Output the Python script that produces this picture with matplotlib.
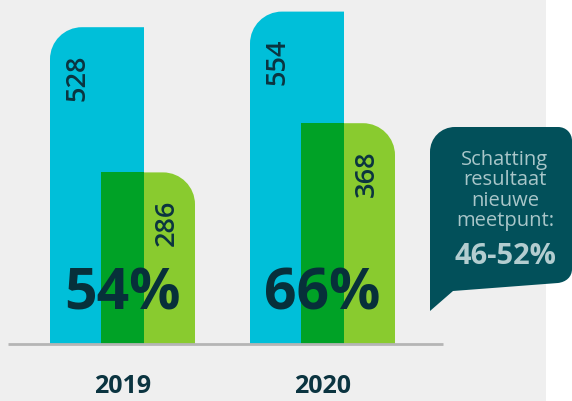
import matplotlib
matplotlib.use("Agg")
import matplotlib.pyplot as plt
from matplotlib.path import Path
from matplotlib.patches import PathPatch, Rectangle

# ---- data ----
years = ["2019", "2020"]
total_values = [528, 554]
response_values = [286, 368]
percent_labels = ["54%", "66%"]
callout_lines = ["Schatting", "resultaat", "nieuwe", "meetpunt:"]
callout_value = "46-52%"

# ---- style ----
BG = "#EFEFEF"
BLUE = "#00BFD9"
LGREEN = "#89CB2F"
DGREEN = "#00A226"
DARK = "#0B3440"
CALLOUT = "#02505A"
CALLOUT_TXT = "#A9C6C9"
FONT = "Open Sans"

W, H = 572, 402
fig = plt.figure(figsize=(W / 100, H / 100), dpi=100, facecolor="white")

# overlay axes in pixel coordinates for background / callout
bg = fig.add_axes([0, 0, 1, 1])
bg.set_xlim(0, W)
bg.set_ylim(H, 0)
bg.axis("off")
bg.add_patch(Rectangle((0, 0), 546, H, facecolor=BG, edgecolor="none"))

# data axes: group index on x (200 px per group), values on y (0.6 px per unit)
px_per_x = 200.0
px_per_y = 0.6
x0_px = 122.5
base_px = 345
ax = fig.add_axes([0, 0, 1, 1], facecolor="none")
ax.set_xlim(-x0_px / px_per_x, (W - x0_px) / px_per_x)
ax.set_ylim(-(H - base_px) / px_per_y, base_px / px_per_y)
ax.axis("off")

bar_w = 94 / px_per_x
offset = 25.5 / px_per_x
rad_px = 32
rx = rad_px / px_per_x
ry = rad_px / px_per_y
k = 0.5523


def round_bar(xl, xr, h, corner, color):
    if corner == "left":
        verts = [(xl, 0), (xl, h - ry), (xl, h - ry + k * ry), (xl + rx - k * rx, h),
                 (xl + rx, h), (xr, h), (xr, 0), (xl, 0)]
        codes = [Path.MOVETO, Path.LINETO, Path.CURVE4, Path.CURVE4, Path.CURVE4,
                 Path.LINETO, Path.LINETO, Path.CLOSEPOLY]
    else:
        verts = [(xl, 0), (xl, h), (xr - rx, h), (xr - rx + k * rx, h),
                 (xr, h - ry + k * ry), (xr, h - ry), (xr, 0), (xl, 0)]
        codes = [Path.MOVETO, Path.LINETO, Path.LINETO, Path.CURVE4, Path.CURVE4,
                 Path.CURVE4, Path.LINETO, Path.CLOSEPOLY]
    ax.add_patch(PathPatch(Path(verts, codes), facecolor=color, edgecolor="none"))


lab_gap = 26 / px_per_y
lab_in = 28 / px_per_x
for i, (tv, rv) in enumerate(zip(total_values, response_values)):
    bl, br = i - offset - bar_w / 2, i - offset + bar_w / 2
    gl, gr = i + offset - bar_w / 2, i + offset + bar_w / 2
    round_bar(bl, br, tv, "left", BLUE)
    round_bar(gl, gr, rv, "right", LGREEN)
    ax.add_patch(Rectangle((gl, 0), br - gl, min(tv, rv), facecolor=DGREEN, edgecolor="none"))
    ax.text(bl + lab_in, tv - lab_gap, str(tv), rotation=90, ha="center", va="top",
            fontsize=19.5, fontweight="semibold", color=DARK, family=FONT)
    ax.text(gr - lab_in, rv - lab_gap, str(rv), rotation=90, ha="center", va="top",
            fontsize=19.5, fontweight="semibold", color=DARK, family=FONT)
    ax.text(i, 85, percent_labels[i], ha="center", va="center", fontsize=41,
            fontweight="bold", color="#07303A", family=FONT)
    ax.text(i, -70, years[i], ha="center", va="center", fontsize=18,
            fontweight="bold", color=DARK, family=FONT)

# baseline
ax.plot([-0.5725, 1.6], [0, 0], color="#B5B5B5", lw=2, solid_capstyle="butt")

# callout
cverts = [(430, 312), (430, 153), (430, 139), (441, 128), (455, 128), (558, 128),
          (566, 128), (572, 134), (572, 142), (572, 270), (572, 278), (566, 283),
          (558, 284), (453, 292), (430, 312)]
ccodes = [Path.MOVETO, Path.LINETO, Path.CURVE4, Path.CURVE4, Path.CURVE4, Path.LINETO,
          Path.CURVE4, Path.CURVE4, Path.CURVE4, Path.LINETO, Path.CURVE4, Path.CURVE4,
          Path.CURVE4, Path.LINETO, Path.CLOSEPOLY]
bg.add_patch(PathPatch(Path(cverts, ccodes), facecolor=CALLOUT, edgecolor="none"))
for j, line in enumerate(callout_lines):
    bg.text(505, 165 + 20.5 * j, line, ha="center", va="baseline", fontsize=14.5,
            color=CALLOUT_TXT, family=FONT)
bg.text(505, 256, callout_value, ha="center", va="center", fontsize=21,
        fontweight="bold", color="#B3CDD0", family=FONT)

fig.savefig("out.png", dpi=100, facecolor="white")
